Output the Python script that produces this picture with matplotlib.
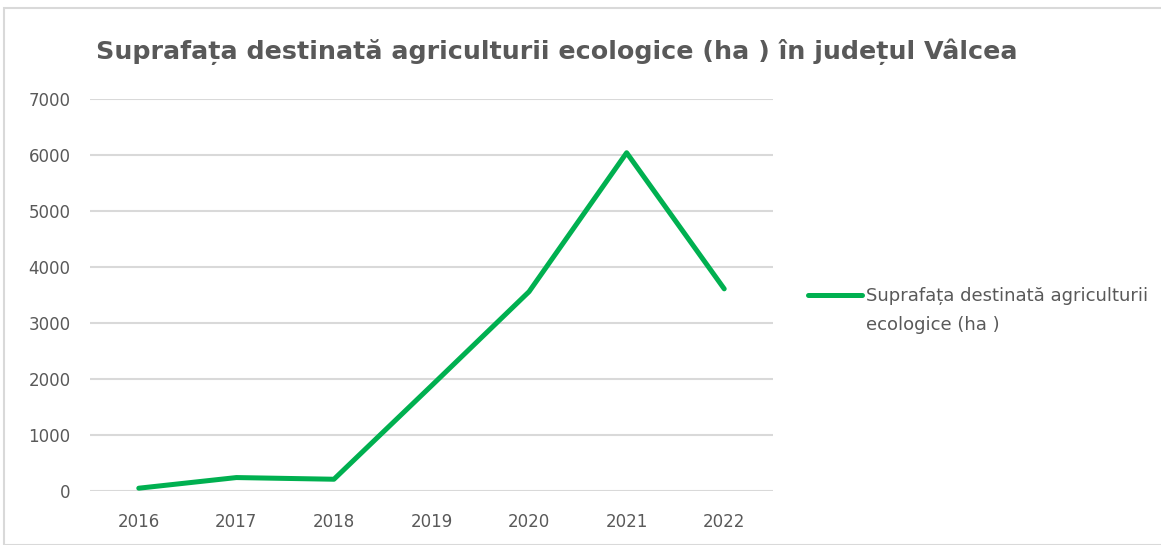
import matplotlib.pyplot as plt
from matplotlib.patches import Rectangle

years = ['2016', '2017', '2018', '2019', '2020', '2021', '2022']
suprafata = [50, 240, 210, 1880, 3560, 6040, 3610]
yticks = [0, 1000, 2000, 3000, 4000, 5000, 6000, 7000]

fig = plt.figure(figsize=(11.61, 5.45), dpi=100)
ax = fig.add_axes([90 / 1161, 1 - 491 / 545, (773 - 90) / 1161, (491 - 99) / 545])

x = range(len(years))
ax.plot(x, suprafata, color='#00b050', linewidth=3.6, solid_capstyle='round',
        label='Suprafața destinată agriculturii')

ax.set_xlim(-0.5, len(years) - 0.5)
ax.set_ylim(0, 7000)
ax.set_xticks(list(x))
ax.set_xticklabels(years)
ax.set_yticks(yticks)
ax.grid(axis='y', color='#d9d9d9', linewidth=1.5)
ax.set_axisbelow(True)
for s in ax.spines.values():
    s.set_visible(False)
ax.tick_params(length=0, labelsize=12, colors='#595959', pad=16)
ax.tick_params(axis='y', pad=14)

fig.text(557 / 1161, 1 - 52 / 545, 'Suprafața destinată agriculturii ecologice (ha ) în județul Vâlcea',
         ha='center', va='center', fontsize=18.3, fontweight='bold', color='#595959')

# legend: handle lines up with the first line of the label, as in the original
leg = fig.legend(loc='center left', bbox_to_anchor=(792 / 1161, 1 - 296 / 545), frameon=False,
                 fontsize=13, handlelength=3.0, handletextpad=0.2, labelcolor='#595959')
fig.text(866 / 1161, 1 - 325 / 545, 'ecologice (ha )', ha='left', va='center',
         fontsize=13, color='#595959')

fig.patches.append(Rectangle((4 / 1161, 0), 1, 1 - 8 / 545, transform=fig.transFigure,
                             fill=False, edgecolor='#d9d9d9', linewidth=1.5))

fig.savefig('out.png', dpi=100)
